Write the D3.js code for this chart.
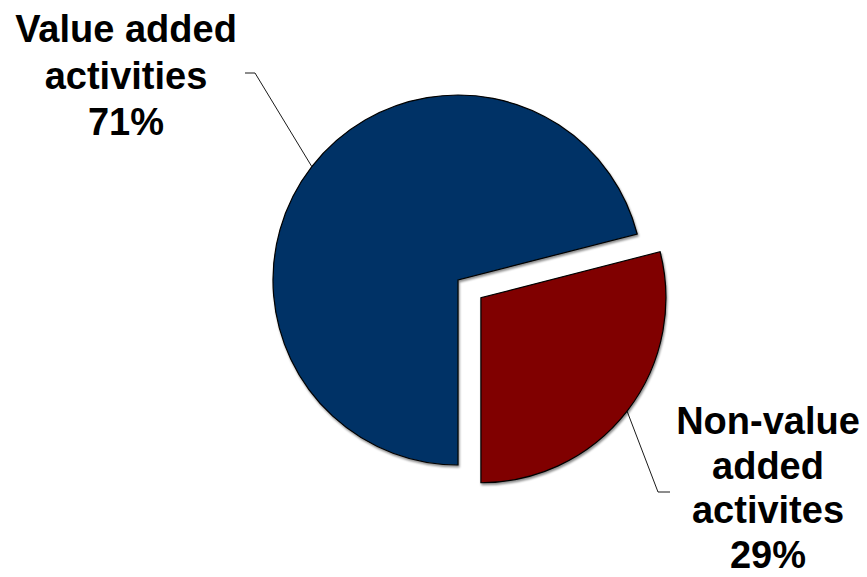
<!DOCTYPE html>
<html>
<head>
<meta charset="utf-8">
<script src="https://cdn.jsdelivr.net/npm/d3@7"></script>
<style>
  body { margin: 0; background: #fff; }
  text { font-family: "Liberation Sans", Arial, sans-serif; font-weight: bold; }
</style>
</head>
<body>
<div id="chart"></div>
<script>
var categories = ["Value added activities", "Non-value added activites"];
var values = [71, 29];
var colors = ["#003366", "#800000"];
var labelLines = [
	["Value added", "activities", "71%"],
	["Non-value", "added", "activites", "29%"]
];
var exploded = [false, true];

var width = 867, height = 577;
var cx = 458, cy = 280, radius = 185, explode = 29;

var svg = d3.select("#chart").append("svg")
	.attr("width", width)
	.attr("height", height);

var defs = svg.append("defs");
var shadow = defs.append("filter").attr("id", "shadow")
	.attr("x", "-10%").attr("y", "-10%").attr("width", "120%").attr("height", "120%");
shadow.append("feDropShadow")
	.attr("dx", 1).attr("dy", 2).attr("stdDeviation", 1.2)
	.attr("flood-color", "#000").attr("flood-opacity", 0.45);

var pie = d3.pie()
	.sort(null)
	.startAngle(Math.PI)
	.endAngle(3 * Math.PI)
	.value(function(d) { return d; });

var arcs = pie(values);
var arc = d3.arc().innerRadius(0).outerRadius(radius);

function offsetOf(d, i) {
	if (!exploded[i]) return [0, 0];
	var mid = (d.startAngle + d.endAngle) / 2;
	return [Math.sin(mid) * explode, -Math.cos(mid) * explode];
}

var g = svg.append("g").attr("transform", "translate(" + cx + "," + cy + ")");

g.selectAll(".slice")
	.data(arcs)
	.enter().append("path")
	.attr("class", "slice")
	.attr("transform", function(d, i) {
		var o = offsetOf(d, i);
		return "translate(" + o[0] + "," + o[1] + ")";
	})
	.attr("d", arc)
	.attr("fill", function(d, i) { return colors[i]; })
	.attr("stroke", "#000")
	.attr("stroke-width", 1.2)
	.attr("filter", "url(#shadow)");

// label anchors (absolute page coords) and leader elbows
var labelPos = [
	{ x: 126, y: 42, step: 46.5, elbow: [255, 73], end: [245, 73] },
	{ x: 768, y: 434, step: 44.5, elbow: [658, 492], end: [670, 492] }
];

arcs.forEach(function(d, i) {
	var o = offsetOf(d, i);
	var mid = (d.startAngle + d.endAngle) / 2;
	var sx = cx + o[0] + Math.sin(mid) * radius;
	var sy = cy + o[1] - Math.cos(mid) * radius;
	var p = labelPos[i];
	svg.append("path")
		.attr("d", d3.line()([[sx, sy], p.elbow, p.end]))
		.attr("fill", "none")
		.attr("stroke", "#000")
		.attr("stroke-width", 0.9);

	var t = svg.append("text")
		.attr("text-anchor", "middle")
		.attr("font-size", 38)
		.attr("fill", "#000");
	labelLines[i].forEach(function(line, j) {
		t.append("tspan")
			.attr("x", p.x)
			.attr("y", p.y + j * p.step)
			.text(line);
	});
});
</script>
</body>
</html>
